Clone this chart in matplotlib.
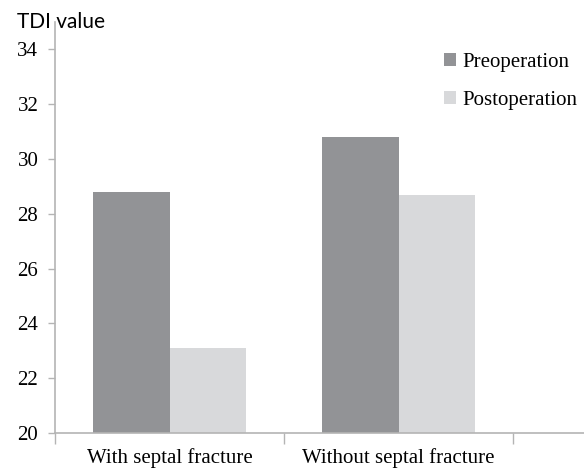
import numpy as np
import matplotlib
matplotlib.use('Agg')
import matplotlib.pyplot as plt

#data
groups = ['With septal fracture', 'Without septal fracture']
preop = [28.8, 30.8]
postop = [23.1, 28.7]
series_names = ['Preoperation', 'Postoperation']

col_pre = '#929396'
col_post = '#d8d9db'
axis_col = '#b4b4b4'

fig = plt.figure(figsize=(5.84, 4.69), dpi=100)
ax = fig.add_axes([55/584, 1-433/469, 1-55/584, (433-22)/469])

x = np.arange(len(groups))
w = 0.336
ax.bar(x - w/2, preop, w, color=col_pre, label=series_names[0], zorder=2)
ax.bar(x + w/2, postop, w, color=col_post, label=series_names[1], zorder=2)

ax.set_ylim(20, 35)
ax.set_yticks(np.arange(20, 35, 2))
ax.set_xlim(-0.5, 1.81)

#category boundaries as ticks, labels on centers
ax.set_xticks(x)
ax.set_xticklabels(groups, family='Liberation Serif', fontsize=15)
ax.set_xticks([-0.5, 0.5, 1.5], minor=True)
ax.tick_params(axis='x', which='major', length=0, pad=11)
ax.tick_params(axis='x', which='minor', length=8, width=1, color=axis_col)
ax.tick_params(axis='y', length=5, width=1, color=axis_col, pad=7)
for lab in ax.get_yticklabels():
    lab.set_family('Liberation Serif')
    lab.set_fontsize(15)

for s in ['top', 'right']:
    ax.spines[s].set_visible(False)
for s in ['left', 'bottom']:
    ax.spines[s].set_color(axis_col)
    ax.spines[s].set_linewidth(1.2)

fig.text(17/584, 1-22/469, 'TDI value', family='Lato', fontsize=15,
         va='center', ha='left')

leg = ax.legend(loc='upper left', bbox_to_anchor=(425/584, 1-34/469),
                bbox_transform=fig.transFigure, frameon=False,
                prop={'family': 'Liberation Serif', 'size': 15},
                handlelength=0.6, handleheight=0.6, handletextpad=0.3,
                labelspacing=0.9)

fig.savefig('out.png', dpi=100)
